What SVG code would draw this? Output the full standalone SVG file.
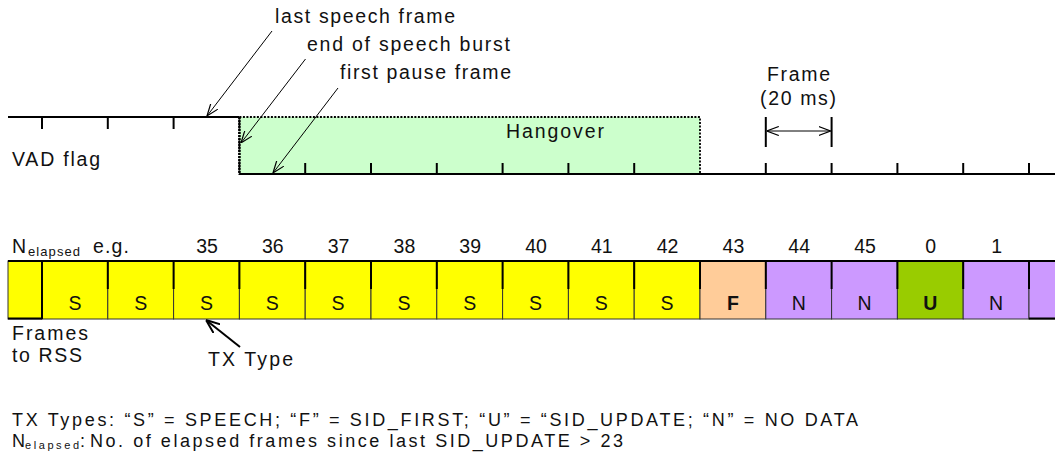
<svg xmlns="http://www.w3.org/2000/svg" width="1055" height="458" viewBox="0 0 1055 458">
<style>
text{font-family:"Liberation Sans",Arial,sans-serif;font-size:19.5px;fill:#111;}
.c{text-anchor:middle;}
.b{font-weight:bold;}
.sub{font-size:13px;}
.lg{font-size:18px;}
.ln{stroke:#000;stroke-width:1;fill:none;}
.thk{stroke:#000;stroke-width:2;fill:none;}
.tick{stroke:#000;stroke-width:2;}
.cell{stroke:#333;stroke-width:1;}
.Y{fill:#ffff00;}.F{fill:#ffcc99;}.N{fill:#cc99ff;}.U{fill:#99cc00;}
</style>
<defs>
<marker id="ah" viewBox="0 0 12 10" refX="12" refY="5" markerWidth="12" markerHeight="10" markerUnits="userSpaceOnUse" orient="auto-start-reverse">
<path d="M0,0.5 L12,5 L0,9.5" fill="none" stroke="#000" stroke-width="1.2"/>
</marker>
<marker id="ah2" viewBox="0 0 14 12" refX="14" refY="6" markerWidth="14" markerHeight="12" markerUnits="userSpaceOnUse" orient="auto">
<path d="M0,0.5 L14,6 L0,11.5" fill="none" stroke="#000" stroke-width="2"/>
</marker>
</defs>

<g id="vad">
<rect x="239.4" y="117" width="460.6" height="57" fill="#ccffcc" stroke="#000" stroke-width="1.8" stroke-dasharray="2 1.5"/>
<line x1="239.4" y1="117" x2="239.4" y2="174" stroke="#000" stroke-width="2.5" stroke-dasharray="2 1"/>
<line x1="8" y1="117" x2="239.4" y2="117" class="thk"/>
<line x1="239.4" y1="174" x2="1055" y2="174" class="thk"/>
<g class="tick">
<line x1="42" y1="117" x2="42" y2="129"/>
<line x1="107.8" y1="117" x2="107.8" y2="129"/>
<line x1="173.6" y1="117" x2="173.6" y2="129"/>
<line x1="305.2" y1="163" x2="305.2" y2="174"/>
<line x1="371" y1="163" x2="371" y2="174"/>
<line x1="436.8" y1="163" x2="436.8" y2="174"/>
<line x1="502.6" y1="163" x2="502.6" y2="174"/>
<line x1="568.4" y1="163" x2="568.4" y2="174"/>
<line x1="634.2" y1="163" x2="634.2" y2="174"/>
<line x1="765.8" y1="163" x2="765.8" y2="174"/>
<line x1="831.6" y1="163" x2="831.6" y2="174"/>
<line x1="897.4" y1="163" x2="897.4" y2="174"/>
<line x1="963.2" y1="163" x2="963.2" y2="174"/>
<line x1="1029" y1="163" x2="1029" y2="174"/>
</g>
<text x="12" y="166" textLength="88">VAD flag</text>
<text x="506" y="138" textLength="98">Hangover</text>
</g>

<g id="frame-scale">
<line x1="765.8" y1="117" x2="765.8" y2="147" class="tick"/>
<line x1="831.6" y1="117" x2="831.6" y2="147" class="tick"/>
<line x1="766.8" y1="131" x2="830.6" y2="131" class="ln" marker-start="url(#ah)" marker-end="url(#ah)"/>
<text x="767" y="81" textLength="63">Frame</text>
<text x="760" y="105" textLength="76">(20 ms)</text>
</g>

<g id="labels-top">
<text x="275" y="23" textLength="180">last speech frame</text>
<text x="307" y="51" textLength="203">end of speech burst</text>
<text x="340" y="79" textLength="171">first pause frame</text>
</g>

<g id="connectors">
<line x1="272" y1="31" x2="207" y2="116" class="ln" marker-end="url(#ah)"/>
<line x1="305.5" y1="59" x2="241" y2="143" class="ln" marker-end="url(#ah)"/>
<line x1="338" y1="88" x2="273" y2="173" class="ln" marker-end="url(#ah)"/>
<line x1="240" y1="347" x2="206" y2="320" stroke="#000" stroke-width="2" marker-end="url(#ah2)"/>
</g>

<g id="cells">
<rect class="cell Y" x="8" y="261" width="34" height="58"/>
<rect class="cell Y" x="42" y="261" width="65.8" height="58"/>
<rect class="cell Y" x="107.8" y="261" width="65.8" height="58"/>
<rect class="cell Y" x="173.6" y="261" width="65.8" height="58"/>
<rect class="cell Y" x="239.4" y="261" width="65.8" height="58"/>
<rect class="cell Y" x="305.2" y="261" width="65.8" height="58"/>
<rect class="cell Y" x="371" y="261" width="65.8" height="58"/>
<rect class="cell Y" x="436.8" y="261" width="65.8" height="58"/>
<rect class="cell Y" x="502.6" y="261" width="65.8" height="58"/>
<rect class="cell Y" x="568.4" y="261" width="65.8" height="58"/>
<rect class="cell Y" x="634.2" y="261" width="65.8" height="58"/>
<rect class="cell F" x="700" y="261" width="65.8" height="58"/>
<rect class="cell N" x="765.8" y="261" width="65.8" height="58"/>
<rect class="cell N" x="831.6" y="261" width="65.8" height="58"/>
<rect class="cell U" x="897.4" y="261" width="65.8" height="58"/>
<rect class="cell N" x="963.2" y="261" width="65.8" height="58"/>
<rect class="cell N" x="1029" y="261" width="30" height="58"/>
<line x1="8" y1="261" x2="1055" y2="261" class="thk"/>
<line x1="8" y1="318.5" x2="42" y2="318.5" class="thk"/>
<line x1="1029" y1="318.5" x2="1055" y2="318.5" class="thk"/>
<line x1="42" y1="261" x2="42" y2="319" class="tick"/>
<g class="tick">
<line x1="107.8" y1="261" x2="107.8" y2="289"/>
<line x1="173.6" y1="261" x2="173.6" y2="289"/>
<line x1="239.4" y1="261" x2="239.4" y2="289"/>
<line x1="305.2" y1="261" x2="305.2" y2="289"/>
<line x1="371" y1="261" x2="371" y2="289"/>
<line x1="436.8" y1="261" x2="436.8" y2="289"/>
<line x1="502.6" y1="261" x2="502.6" y2="289"/>
<line x1="568.4" y1="261" x2="568.4" y2="289"/>
<line x1="634.2" y1="261" x2="634.2" y2="289"/>
<line x1="700" y1="261" x2="700" y2="289"/>
<line x1="765.8" y1="261" x2="765.8" y2="289"/>
<line x1="831.6" y1="261" x2="831.6" y2="289"/>
<line x1="897.4" y1="261" x2="897.4" y2="289"/>
<line x1="963.2" y1="261" x2="963.2" y2="289"/>
<line x1="1029" y1="261" x2="1029" y2="289"/>
</g>
<g class="c">
<text x="74.9" y="310">S</text>
<text x="140.7" y="310">S</text>
<text x="206.5" y="310">S</text>
<text x="272.3" y="310">S</text>
<text x="338.1" y="310">S</text>
<text x="403.9" y="310">S</text>
<text x="469.7" y="310">S</text>
<text x="535.5" y="310">S</text>
<text x="601.3" y="310">S</text>
<text x="667.1" y="310">S</text>
<text x="732.9" y="310" class="b">F</text>
<text x="798.7" y="310">N</text>
<text x="864.5" y="310">N</text>
<text x="930.3" y="310" class="b">U</text>
<text x="996.1" y="310">N</text>
</g>
</g>

<g id="numbers" class="c">
<text x="207" y="253">35</text>
<text x="272.8" y="253">36</text>
<text x="338.6" y="253">37</text>
<text x="404.4" y="253">38</text>
<text x="470.2" y="253">39</text>
<text x="536" y="253">40</text>
<text x="601.8" y="253">41</text>
<text x="667.6" y="253">42</text>
<text x="733.4" y="253">43</text>
<text x="799.2" y="253">44</text>
<text x="865" y="253">45</text>
<text x="930.8" y="253">0</text>
<text x="996.6" y="253">1</text>
</g>

<g id="row-labels">
<text x="12" y="253">N</text>
<text x="28" y="256" class="sub" textLength="52">elapsed</text>
<text x="93" y="253" textLength="36">e.g.</text>
<text x="12" y="340" textLength="76">Frames</text>
<text x="12" y="362" textLength="70">to RSS</text>
<text x="208" y="366" textLength="85">TX Type</text>
</g>

<g id="legend">
<text x="12" y="426" class="lg" textLength="846">TX Types: “S” = SPEECH; “F” = SID_FIRST; “U” = “SID_UPDATE; “N” = NO DATA</text>
<text x="12" y="447" class="lg">N</text>
<text x="25" y="449" style="font-size:11px" textLength="54">elapsed</text>
<text x="80" y="447" class="lg">:</text>
<text x="90" y="447" class="lg" textLength="533">No. of elapsed frames since last SID_UPDATE &gt; 23</text>
</g>
</svg>
